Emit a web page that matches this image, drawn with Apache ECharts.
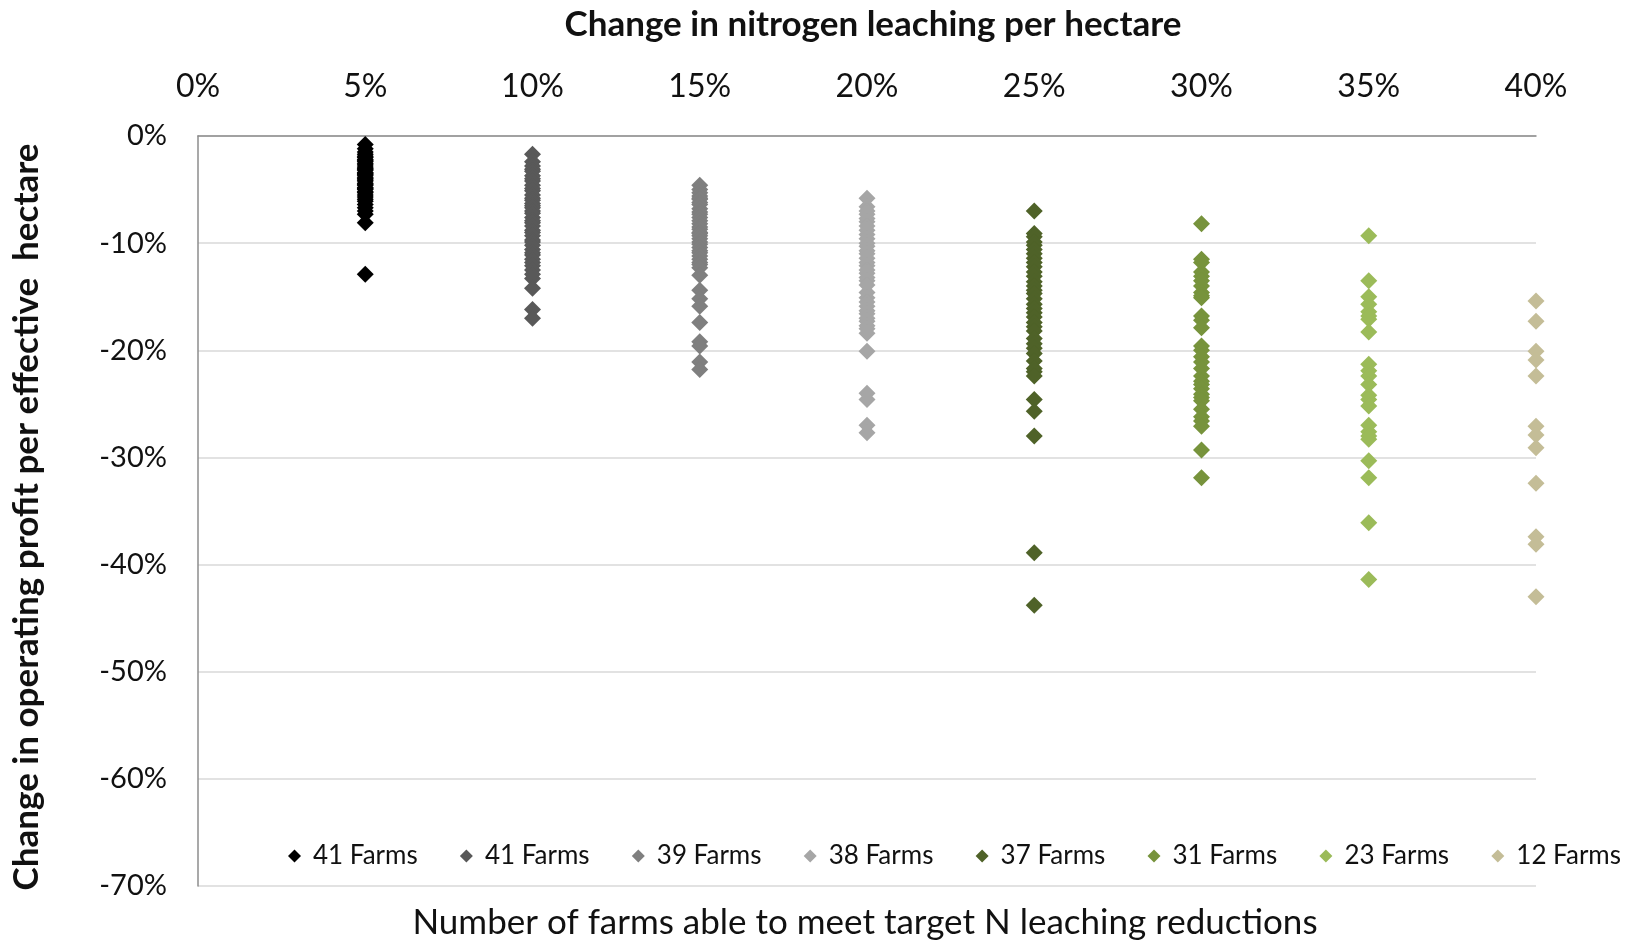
<!DOCTYPE html>
<html>
<head>
<meta charset="utf-8">
<script src="https://cdn.jsdelivr.net/npm/echarts@6/dist/echarts.min.js"></script>
<style>
  html, body { margin: 0; padding: 0; background: #fff; }
  #chart { width: 1633px; height: 944px; }
</style>
</head>
<body>
<div id="chart"></div>
<script>
// Reduction targets (x, % change in N leaching) and the farm counts shown in the legend
const targets = [5, 10, 15, 20, 25, 30, 35, 40];
const farmLabels = ['41 Farms', '41 Farms', '39 Farms', '38 Farms', '37 Farms', '31 Farms', '23 Farms', '12 Farms'];
const colors = ['#000000', '#595959', '#7f7f7f', '#a6a6a6', '#4f6228', '#77933c', '#9bbb59', '#c4bd97'];

// Change in operating profit per effective hectare (%) for each farm, by target
const profit5 = [-0.8, -1.2, -1.5, -1.7, -1.9, -2.0, -2.2, -2.3, -2.4, -2.6, -2.7, -2.9, -3.0, -3.1, -3.2, -3.4, -3.5, -3.6, -3.7, -3.9, -4.0, -4.1, -4.2, -4.4, -4.5, -4.6, -4.8, -4.9, -5.0, -5.2, -5.3, -5.5, -5.7, -5.9, -6.1, -6.4, -6.7, -7.0, -7.3, -8.1, -12.9];
const profit10 = [-1.7, -2.4, -2.8, -3.1, -3.3, -3.7, -4.0, -4.2, -4.6, -4.9, -5.1, -5.5, -5.8, -6.0, -6.3, -6.5, -6.7, -7.0, -7.2, -7.6, -7.9, -8.1, -8.4, -8.8, -9.0, -9.3, -9.7, -9.9, -10.2, -10.6, -10.9, -11.1, -11.5, -11.8, -12.1, -12.5, -12.9, -13.3, -14.2, -16.2, -17.0];
const profit15 = [-4.6, -5.0, -5.3, -5.6, -5.8, -5.9, -6.2, -6.4, -6.8, -7.1, -7.3, -7.6, -7.9, -8.2, -8.5, -8.7, -9.0, -9.1, -9.3, -9.6, -9.9, -10.1, -10.4, -10.7, -10.9, -11.2, -11.5, -11.8, -12.0, -12.3, -13.0, -14.4, -15.2, -15.9, -17.4, -19.2, -19.6, -21.1, -21.8];
const profit20 = [-5.8, -6.6, -7.0, -7.3, -7.7, -8.0, -8.4, -8.8, -9.2, -9.6, -10.0, -10.3, -10.7, -11.0, -11.4, -11.8, -12.1, -12.5, -12.8, -13.2, -13.5, -13.9, -14.6, -15.1, -15.5, -15.9, -16.3, -16.6, -17.0, -17.3, -17.7, -18.0, -18.4, -20.1, -24.0, -24.6, -27.0, -27.7];
const profit25 = [-7.0, -9.1, -9.4, -9.9, -10.2, -10.6, -11.0, -11.4, -11.8, -12.2, -12.7, -13.1, -13.6, -14.0, -14.4, -14.7, -15.2, -15.7, -16.1, -16.5, -16.9, -17.4, -17.8, -18.2, -18.9, -19.4, -19.8, -20.3, -21.0, -21.7, -22.0, -22.4, -24.6, -25.7, -28.0, -38.9, -43.8];
const profit30 = [-8.2, -11.5, -11.8, -12.7, -13.1, -13.5, -14.0, -14.6, -14.9, -15.1, -16.8, -17.2, -17.9, -19.6, -20.0, -20.6, -21.1, -21.7, -22.4, -22.9, -23.2, -23.6, -24.1, -24.4, -24.7, -25.5, -26.2, -26.6, -27.1, -29.3, -31.9];
const profit35 = [-9.3, -13.5, -15.0, -15.7, -16.4, -16.8, -17.1, -18.3, -21.3, -21.9, -22.4, -23.2, -24.2, -24.6, -25.2, -27.0, -27.6, -28.0, -28.3, -30.3, -31.9, -36.1, -41.4];
const profit40 = [-15.4, -17.3, -20.1, -20.9, -22.4, -27.1, -27.9, -29.1, -32.4, -37.4, -38.1, -43.0];
const profits = [profit5, profit10, profit15, profit20, profit25, profit30, profit35, profit40];

// Axis ranges and tick spacing (percent units)
const xTicks = { min: 0, max: 40, interval: 5 };
const yTicks = { min: -70, max: 0, interval: 10 };

const FONT = 'Lato, "Open Sans", sans-serif';
const chart = echarts.init(document.getElementById('chart'), null, { renderer: 'canvas' });

const seriesNames = targets.map(t => 'Target ' + t + '%');
const series = targets.map((t, i) => ({
  name: seriesNames[i],
  type: 'scatter',
  symbol: 'diamond',
  symbolSize: 17,
  itemStyle: { color: colors[i], opacity: 1 },
  emphasis: { disabled: true },
  data: profits[i].map(v => [t, v])
}));

// One legend block per series so the entries sit on a fixed pitch
const legends = seriesNames.map((n, i) => ({
  data: [n],
  left: 283 + i * 171.9,
  top: 838,
  itemWidth: 13,
  itemHeight: 13,
  icon: 'diamond',
  formatter: () => farmLabels[i],
  textStyle: { fontFamily: FONT, fontSize: 26, color: '#111', padding: [0, 0, 0, 7] },
  selectedMode: false
}));

chart.setOption({
  animation: false,
  backgroundColor: '#ffffff',
  grid: { left: 198, right: 97, top: 136, bottom: 58, containLabel: false },
  xAxis: {
    type: 'value',
    position: 'top',
    min: xTicks.min, max: xTicks.max, interval: xTicks.interval,
    axisLine: { show: true, onZero: false, lineStyle: { color: '#8c8c8c', width: 1.5 } },
    axisTick: { show: false },
    splitLine: { show: false },
    axisLabel: { formatter: '{value}%', fontFamily: FONT, fontSize: 32, color: '#111', margin: 33 }
  },
  yAxis: {
    type: 'value',
    min: yTicks.min, max: yTicks.max, interval: yTicks.interval,
    axisLine: { show: true, onZero: false, lineStyle: { color: '#8c8c8c', width: 1.5 } },
    axisTick: { show: false },
    splitLine: { show: true, lineStyle: { color: '#d9d9d9', width: 1.5 } },
    axisLabel: { formatter: '{value}%', fontFamily: FONT, fontSize: 29, color: '#111', margin: 31 }
  },
  legend: legends,
  series: series,
  graphic: [
    {
      type: 'text', x: 873, y: 25,
      style: { text: 'Change in nitrogen leaching per hectare', font: 'bold 35px ' + FONT, fill: '#111', align: 'center', verticalAlign: 'middle' }
    },
    {
      type: 'text', x: 865, y: 923,
      style: { text: 'Number of farms able to meet target N leaching reductions', font: '35px ' + FONT, fill: '#111', align: 'center', verticalAlign: 'middle' }
    },
    {
      type: 'text', x: 27, y: 517, rotation: Math.PI / 2,
      style: { text: 'Change in operating profit per effective  hectare', font: 'bold 35px ' + FONT, fill: '#111', align: 'center', verticalAlign: 'middle' }
    }
  ]
});
</script>
</body>
</html>
